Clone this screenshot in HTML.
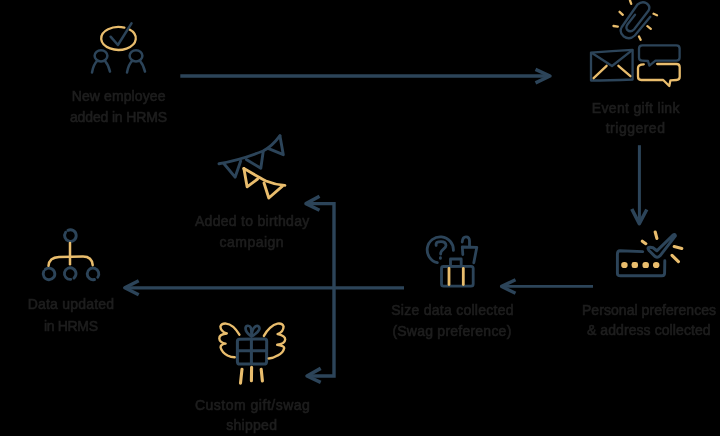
<!DOCTYPE html>
<html><head><meta charset="utf-8">
<style>
html,body{margin:0;padding:0;background:#000;width:720px;height:436px;overflow:hidden}
svg{display:block}
.t{font-family:"Liberation Sans",sans-serif;font-size:14px;font-weight:400;fill:#1e1e1e;stroke:#1e1e1e;stroke-width:0.6px;text-anchor:middle;filter:grayscale(1)}
.n{fill:none;stroke:#2c4459;stroke-linecap:round;stroke-linejoin:round}
.y{fill:none;stroke:#e9bd6d;stroke-linecap:round;stroke-linejoin:round}
</style></head>
<body>
<svg width="720" height="436" viewBox="0 0 720 436">
<!-- arrows -->
<g class="n" stroke-width="3.4">
  <path d="M180.3 76 H549" stroke-linecap="butt"/>
  <path d="M535.5 69.3 L550 76 L535.5 82.9" stroke-linecap="butt" stroke-width="3.5"/>
  <path d="M639.4 145.2 V222" stroke-linecap="butt" stroke-width="3"/>
  <path d="M631.8 209 L639.3 223.6 L646.8 209.5" stroke-linecap="butt" stroke-width="3.5"/>
  <path d="M593 286.4 H503" stroke-width="2.9" stroke-linecap="butt"/>
  <path d="M515.5 279.8 L501.7 286.4 L515.5 293.3" stroke-linecap="butt" stroke-width="3.4"/>
  <path d="M404 287.9 H126" stroke-linecap="butt"/>
  <path d="M138.7 280.8 L124.8 287.8 L138.7 294.8" stroke-linecap="butt" stroke-width="3.5"/>
  <path d="M307.5 203.6 H334 V376 H308.5" stroke-linecap="butt" stroke-linejoin="miter"/>
  <path d="M319.5 196.2 L306 203.6 L319.5 210.2" stroke-linecap="butt" stroke-width="3.5"/>
  <path d="M320.7 368.4 L307 376 L320.7 382.4" stroke-linecap="butt" stroke-width="3.5"/>
</g>

<!-- A: new employee icon -->
<g stroke-width="2.5">
  <path class="y" d="M124.42 27.59 A17.3 11.5 0 1 0 129.15 29.34" stroke-width="2.3"/>
  <path class="n" d="M110.6 36.7 L117.9 45 L131.5 23.4" stroke-linecap="butt"/>
  <ellipse class="n" cx="101" cy="55.8" rx="6.4" ry="5.6"/>
  <path class="n" d="M97 61.2 Q93.5 64.5 92 72.4 M105.2 61.2 Q108.5 65 110 71.6"/>
  <ellipse class="n" cx="136" cy="55.8" rx="6.4" ry="5.6"/>
  <path class="n" d="M132 61.2 Q128.5 64.5 127 72.4 M140.2 61.2 Q143.5 65 145 71.6"/>
</g>

<!-- B: event gift link icon -->
<g stroke-width="2.3">
  <!-- envelope -->
  <path class="n" d="M591 52.6 C605 51.5 620 50.5 632.6 49.8 L632.6 79.5 C620 80 605 80.5 591 80.5 Z"/>
  <path class="n" d="M592 53 L612 66 L632.2 50.2"/>
  <path class="y" d="M593.6 78.2 L606.6 65.8"/>
  <path class="y" d="M618.4 65.8 L630.4 76.2"/>
  <!-- paperclip -->
  <path class="n" d="M650.3 16.8 L634.8 35.5 Q629.5 40.5 623.5 36.2 Q618.8 32 621.8 27 L637.5 4.5 Q642 0.8 646.5 3.2 Q650.8 6 648.6 10.5 L634 29.5 Q630.5 33 627.2 29.8 Q625.4 27.2 627.6 24.2 L635 14.7"/>
  <path class="y" d="M630 0.5 L631.2 3.8 M619.6 11.8 L622.8 14.8 M613.5 26 L617.8 26.6 M653.6 13.8 L657 15.2 M647.4 26.2 L650.8 28.8 M639 36.5 L640.6 39.8"/>
  <!-- chat bubbles -->
  <path class="n" d="M642.5 45.3 L676.3 45.3 Q679.6 45.3 679.6 48.6 L679.6 57.5 Q679.6 60.7 676.3 60.7 L655.5 60.7 L649.4 65.6 L648 61 L642.3 60.7 Q639 60.6 639 57.4 L639 48.6 Q639 45.3 642.5 45.3 Z"/>
  <path class="y" d="M643.8 64.3 Q638 64.3 638 68 L638 76.8 Q638 80 641.2 80 L663.2 80 L669.3 86 L670.4 80.4 L676.5 80 Q679.7 80 679.7 76.8 L679.7 67.2 Q679.7 64 676.4 64 L657.2 64"/>
</g>

<!-- C: bunting -->
<g stroke-width="2.9">
  <path class="n" d="M219 163.7 C232 161.5 248 157 263 151 C270 147.5 276 141 280 135.6"/>
  <path class="n" d="M223.8 163.5 L235.1 177.2 L240.7 161"/>
  <path class="n" d="M246.3 159.5 L260.8 168.3 L263.2 151.5"/>
  <path class="n" d="M268 148.3 L283.3 154.7 L280 136.2"/>
  <path class="y" d="M243.9 168.5 C252 173 258 177 266 181 C272 183.5 279 185 284.9 185.4"/>
  <path class="y" d="M243.9 168.5 L247.1 186.8 L257.6 179"/>
  <path class="y" d="M264 183 L268.8 198 L282.4 186.2"/>
</g>

<!-- D: org chart -->
<g stroke-width="2.9">
  <path class="n" d="M67.95 230.34 A5.8 5.8 0 1 1 65.65 232.27"/>
  <path class="n" d="M45.27 269.46 A5.8 5.8 0 1 1 43.74 271.45"/>
  <path class="n" d="M70.71 279.38 A5.8 5.8 0 1 1 73.93 278.04"/>
  <path class="n" d="M94.50 279.50 A5.8 5.8 0 1 1 97.75 277.23"/>
  <path class="y" d="M70 243 V264.2" stroke-width="2.5"/>
  <path class="y" d="M48.5 265.8 C49 259.5 52.5 257.3 59 257 L83 256.5 C89 256.5 92.3 259.5 92.7 265.2" stroke-width="2.5"/>
</g>

<!-- E: size data icon -->
<g stroke-width="2.8">
  <path class="n" d="M453.39 250.36 A13.1 13.1 0 1 0 437.35 262.66"/>
  <path class="n" d="M436.2 245.5 C435.5 242 438 241.6 441 241.6 C444.5 241.6 446 243.5 446 245.5 C446 248.5 441.5 249.5 440.8 252.5 L440.6 254"/>
  <path class="n" d="M440.4 257.6 L440.4 258.4"/>
  <path class="n" d="M462.2 242 C462.5 238 464 236.8 466 236.8 C468.5 236.8 469.5 238.5 469.5 241 L469.5 246"/>
  <path class="n" d="M462.8 254.5 L462.3 247 L476.8 247.3 L473.8 262.8"/>
  <path class="n" d="M443.5 266.5 L471 266.3 C472.5 266.3 473.2 267 473.2 268.5 L473.2 284 C473.2 285.5 472.5 286.2 471 286.2 L443.5 286.2 C442 286.2 441.5 285.5 441.5 284 L441.5 268.5 C441.5 267 442 266.5 443.5 266.5 Z"/>
  <path class="n" d="M450.5 266 L450.5 259 L461.2 259 L461.2 266"/>
  <path class="y" d="M449 268.5 L449 284.5"/>
  <path class="y" d="M463.3 268.5 L463.3 284.5"/>
</g>

<!-- F: personal prefs icon -->
<g stroke-width="2.9">
  <path class="n" d="M642.7 251.6 L620 250.8 C617.8 250.8 617.4 252 617.4 254.2 L617.4 273.5 C617.4 275.3 618.3 275.8 620.5 275.8 L662 275.8 C664 275.8 664.6 275 664.6 273 L664.8 260.8"/>
  <path class="n" d="M648 248.6 Q648 247 650 247.2 L653 247.8 L656.8 250.8 L672.8 235.3 Q675 233.6 675.4 235.8 L660 255.8 Q657.6 258.2 655.2 256.6 L649.3 250.8 Q648.2 249.8 648 248.6 Z" stroke-width="3"/>
  <g fill="#e9bd6d" stroke="none">
    <rect x="621.2" y="262" width="6.4" height="6" rx="3" ry="2.8"/>
    <rect x="631.6" y="262" width="6.4" height="6" rx="2.2" ry="2.2"/>
    <rect x="642.5" y="262" width="6.4" height="6" rx="2.6" ry="2.6"/>
    <rect x="653" y="262" width="6.4" height="6" rx="3" ry="2.8"/>
  </g>
  <path class="y" d="M655.2 232 L656.9 238.4 M642.3 241.2 L645.8 243.7 M674.2 246.6 L681.8 248.4 M672 255.3 L678.4 261.6" stroke-width="3.1"/>
</g>

<!-- G: gift icon -->
<g stroke-width="3">
  <path class="n" d="M239.5 339.2 L264.8 339 C266.2 339 266.7 339.7 266.7 341.2 L266.6 361.4 C266.6 363.2 265.6 364.1 263.8 364.1 L239.8 364.1 C238 364.1 237.4 363.2 237.4 361.4 L237.4 341.4 C237.4 340 238 339.2 239.5 339.2 Z"/>
  <path class="n" d="M251.4 339.5 V363.5 M238 350.8 H266"/>
  <path class="n" d="M251.4 336.5 C248 334 245.2 330.5 245.6 327.8 C246 325.2 249.5 325 250.8 327.6 C251.5 329.5 251.6 332.5 251.4 336.5 C251.8 332 253 328 255.5 326.3 C258 324.8 260.2 327 259.2 329.6 C258.2 332 255 334.5 251.4 336.5" stroke-width="2.7"/>
  <path class="y" d="M239.4 334.7 C236 329 231 324 226 323.6 C223 323.4 221 324.5 220.4 326.5 C220.5 329.5 222 332 226.8 333.5 C222 334 219.2 336 219.3 338.5 C219.5 341.5 222.5 343 225.6 343.6 C222 344 220.4 345.5 220.6 347.5 C221.5 351 224 353.5 227.5 355.5 C230 356.8 232.5 357.3 234.7 357.3" stroke-width="2.4"/>
  <path class="y" d="M263.9 335.9 C267 330 272.5 324.5 277.5 323.6 C280.5 323.2 283 324.5 283.6 326.5 C283.5 329.5 282 332.5 277.6 334.1 C282.5 335 285.2 337 285.2 339.5 C285 342.5 281.5 344.2 277.2 344.8 C281.5 345.5 284.2 346.5 284.2 348 C283.5 351.5 281 354 277.5 355.6 C274.5 357.5 271.5 358.3 268.7 358.5" stroke-width="2.4"/>
  <path class="y" d="M242 369.2 L240.5 383.2 M251.6 367.3 L251.4 380.8 M261.2 369.4 L262.4 381" stroke-width="3.1"/>
</g>

<!-- text -->
<g class="t">
  <text x="118.6" y="101" textLength="93.8" lengthAdjust="spacing">New employee</text>
  <text x="118.5" y="121.5" textLength="97.1" lengthAdjust="spacing">added in HRMS</text>
  <text x="635.65" y="112.5" textLength="87.6" lengthAdjust="spacing">Event gift link</text>
  <text x="635.35" y="133" textLength="59.2" lengthAdjust="spacing">triggered</text>
  <text x="252.1" y="225.8" textLength="114.2" lengthAdjust="spacing">Added to birthday</text>
  <text x="251.55" y="246.5" textLength="64.0" lengthAdjust="spacing">campaign</text>
  <text x="70.85" y="309.3" textLength="86.4" lengthAdjust="spacing">Data updated</text>
  <text x="71" y="330.8" textLength="54.0" lengthAdjust="spacing">in HRMS</text>
  <text x="452.4" y="315.2" textLength="122.3" lengthAdjust="spacing">Size data collected</text>
  <text x="451.85" y="335.6" textLength="118.9" lengthAdjust="spacing">(Swag preference)</text>
  <text x="649" y="315.2" textLength="134.1" lengthAdjust="spacing">Personal preferences</text>
  <text x="648.75" y="335.4" textLength="123.7" lengthAdjust="spacing">&amp; address collected</text>
  <text x="252.4" y="410" textLength="114.9" lengthAdjust="spacing">Custom gift/swag</text>
  <text x="251.6" y="429.8" textLength="50.8" lengthAdjust="spacing">shipped</text>
</g>
</svg>
</body></html>
